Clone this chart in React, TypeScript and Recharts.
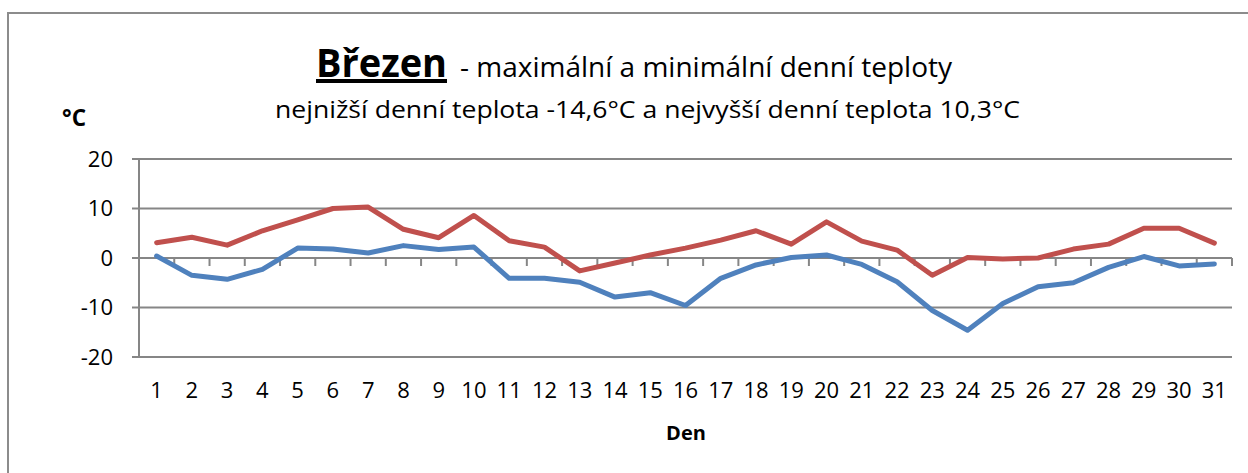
import React from "react";
import { LineChart, Line, XAxis, YAxis, CartesianGrid, ReferenceLine } from "recharts";

const days: string[] = [
  "1","2","3","4","5","6","7","8","9","10","11","12","13","14","15","16",
  "17","18","19","20","21","22","23","24","25","26","27","28","29","30","31",
];
const maxTemps: number[] = [
  3.1, 4.2, 2.6, 5.5, 7.7, 10.0, 10.3, 5.8, 4.1, 8.6, 3.5, 2.2, -2.6, -1.0, 0.6, 2.0,
  3.6, 5.5, 2.8, 7.3, 3.4, 1.6, -3.5, 0.1, -0.2, 0.0, 1.8, 2.8, 6.0, 6.0, 3.0,
];
const minTemps: number[] = [
  0.4, -3.5, -4.3, -2.3, 2.0, 1.8, 1.0, 2.5, 1.7, 2.2, -4.1, -4.1, -4.9, -7.9, -7.0, -9.6,
  -4.1, -1.4, 0.1, 0.6, -1.3, -4.8, -10.6, -14.6, -9.2, -5.8, -5.0, -1.9, 0.3, -1.6, -1.2,
];
const yTicks: number[] = [-20, -10, 0, 10, 20];

const titleMain = "Březen";
const titleRest = "- maximální a minimální denní teploty";
const subtitle = "nejnižší denní teplota -14,6°C a nejvyšší denní teplota 10,3°C";
const yLabel = "°C";
const xLabel = "Den";

const data = days.map((d, i) => ({ day: d, max: maxTemps[i], min: minTemps[i] }));

const FONT = "'Open Sans', sans-serif";
const GRID = "#868686";

const ZeroAxis = (props: any) => {
  const { x1, x2, y1 } = props;
  if (x1 == null || x2 == null) return null;
  const n = days.length;
  const step = (x2 - x1) / n;
  const ticks = [];
  for (let i = 0; i <= n; i++) {
    const x = x1 + i * step;
    ticks.push(<line key={i} x1={x} x2={x} y1={y1} y2={y1 + 8} stroke={GRID} strokeWidth={2} />);
  }
  return (
    <g>
      <line x1={x1} x2={x2} y1={y1} y2={y1} stroke={GRID} strokeWidth={2} />
      {ticks}
    </g>
  );
};

export default function App() {
  return (
    <div style={{ position: "absolute", left: 0, top: 0, width: 1248, height: 473, overflow: "hidden", background: "#fff" }}>
      <div
        style={{
          position: "absolute",
          left: 7,
          top: 12,
          width: 1300,
          height: 600,
          borderLeft: "2px solid #8c8c8c",
          borderTop: "2px solid #8c8c8c",
        }}
      />
      <div style={{ position: "absolute", left: 0, top: 0 }}>
        <LineChart
          width={1248}
          height={473}
          data={data}
          margin={{ top: 159, right: 16, bottom: 86, left: 79 }}
        >
          <CartesianGrid vertical={false} stroke={GRID} strokeWidth={2} />
          <XAxis
            dataKey="day"
            scale="band"
            axisLine={false}
            tickLine={false}
            tickSize={0}
            tickMargin={25}
            height={30}
            interval={0}
            tick={{ fill: "#000", fontSize: 22, fontFamily: FONT }}
          />
          <YAxis
            domain={[-20, 20]}
            ticks={yTicks}
            width={60}
            axisLine={{ stroke: GRID, strokeWidth: 2 }}
            tickLine={{ stroke: GRID, strokeWidth: 2 }}
            tickSize={7}
            tickMargin={19}
            interval={0}
            tick={{ fill: "#000", fontSize: 22, fontFamily: FONT }}
          />
          <ReferenceLine y={0} shape={ZeroAxis} />
          <Line
            dataKey="min"
            stroke="#4F81BD"
            strokeWidth={5}
            dot={false}
            activeDot={false}
            type="linear"
            strokeLinejoin="round"
            strokeLinecap="round"
            isAnimationActive={false}
          />
          <Line
            dataKey="max"
            stroke="#C0504D"
            strokeWidth={5}
            dot={false}
            activeDot={false}
            type="linear"
            strokeLinejoin="round"
            strokeLinecap="round"
            isAnimationActive={false}
          />
        </LineChart>
      </div>
      <svg
        width={1248}
        height={473}
        style={{ position: "absolute", left: 0, top: 0, pointerEvents: "none" }}
        fontFamily={FONT}
      >
        <text x={316} y={77} fontSize={40} fontWeight={700} textDecoration="underline" textLength={131} lengthAdjust="spacingAndGlyphs">
          {titleMain}
        </text>
        <text x={460} y={77} fontSize={28} textLength={492} lengthAdjust="spacingAndGlyphs">
          {titleRest}
        </text>
        <text x={275} y={118} fontSize={23} textLength={745} lengthAdjust="spacingAndGlyphs">
          {subtitle}
        </text>
        <text x={62} y={126} fontSize={24} fontWeight={700} textLength={24} lengthAdjust="spacingAndGlyphs">
          {yLabel}
        </text>
        <text x={686} y={440} fontSize={20} fontWeight={700} textAnchor="middle">
          {xLabel}
        </text>
      </svg>
    </div>
  );
}
